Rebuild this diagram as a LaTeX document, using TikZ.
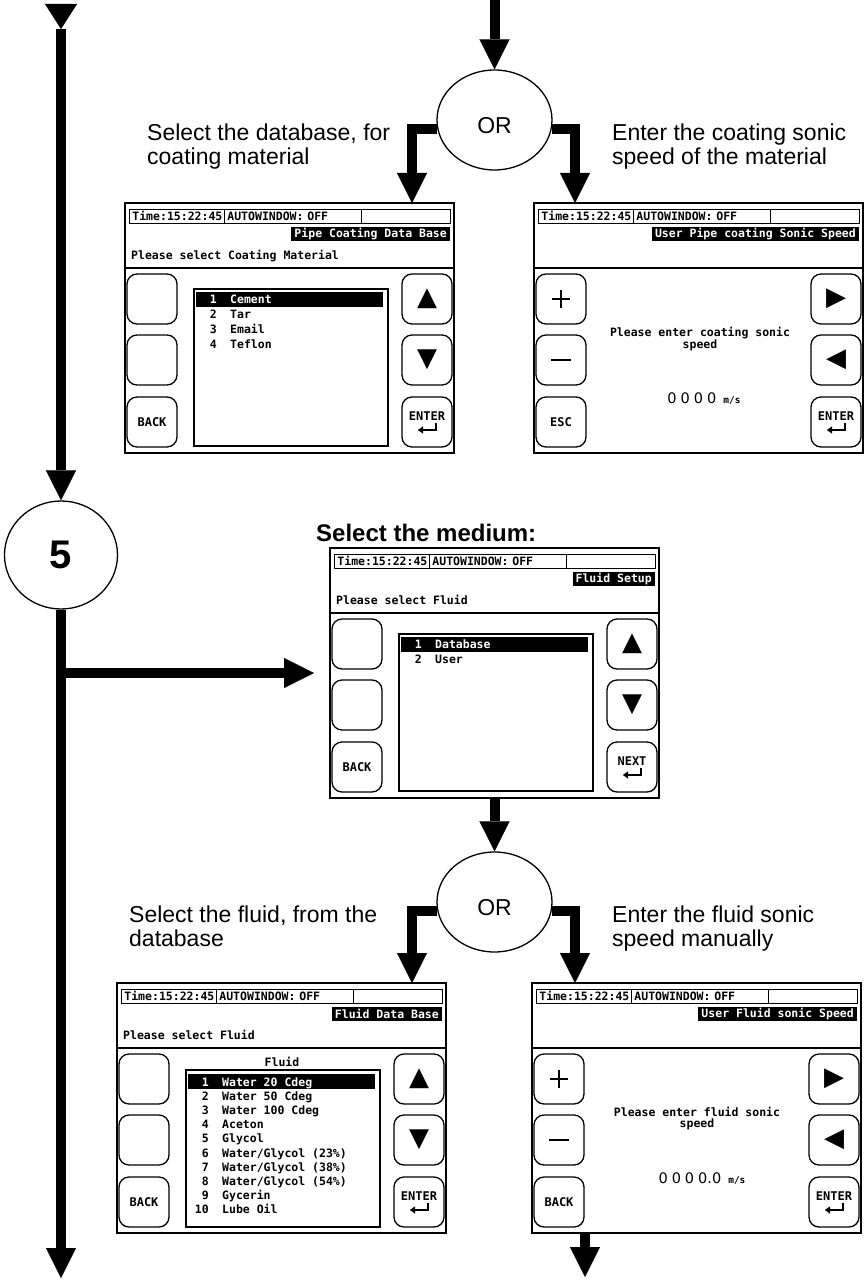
\documentclass[tikz,border=0pt]{standalone}
\usepackage{fontspec}
\setmainfont{Liberation Sans}
\newfontfamily\lcdfont{DejaVu Sans Mono Bold}
\newfontfamily\symfont{DejaVu Sans}
\usetikzlibrary{shapes.geometric}
\usetikzlibrary{positioning}
\usetikzlibrary{arrows.meta}
\tikzset{
    flow/.style = {line width=10pt, -{Triangle[width=30pt,length=30pt,line width=0.1pt]}},
    retarrow/.style = {line width=2pt, -{Triangle[width=7pt,length=5pt,line width=0.1pt]}},
    orcircle/.style = {ellipse, draw, line width=1.3pt, minimum width=115pt, minimum height=100pt, inner sep=0pt, font=\fontsize{23}{23}\selectfont},
    stepcircle/.style = {ellipse, draw, line width=1.3pt, minimum width=113pt, minimum height=108pt, inner sep=0pt, font=\bfseries\fontsize{40}{40}\selectfont},
    caption/.style = {anchor=north west, align=left, inner sep=0pt, font=\fontsize{23}{24}\selectfont},
    screen/.style = {rectangle, draw, line width=2pt, minimum width=329pt, minimum height=250pt, inner sep=0pt, fill=white},
    lcd/.style = {inner sep=0pt, font=\lcdfont\fontsize{11.5}{11}\selectfont},
    topbox/.style = {lcd, draw, line width=0.8pt, anchor=west, align=left, inner xsep=3pt, minimum height=14pt},
    header/.style = {lcd, fill=black, text=white, anchor=north east, inner xsep=3pt, minimum height=14pt},
    softkey/.style = {draw, line width=1.3pt, rounded corners=10pt, minimum size=50pt, inner sep=0pt},
    keytext/.style = {lcd, font=\lcdfont\fontsize{12}{11}\selectfont},
    keysym/.style = {inner sep=0pt, font=\symfont\fontsize{26}{26}\selectfont},
    listbox/.style = {draw, line width=1.5pt, anchor=north west, minimum width=194pt, minimum height=157pt, inner sep=0pt},
    rowmark/.style = {fill=black, anchor=north west, minimum width=187pt, minimum height=15pt, inner sep=0pt},
    rownum/.style = {lcd, anchor=base east},
    rowname/.style = {lcd, anchor=base west},
    value/.style = {anchor=base, inner sep=0pt, font=\symfont\fontsize{14.5}{14}\selectfont},
}

% parts shared by every display
\newcommand{\lcdframe}[3]{%
  \node[screen] (#1) at (#2+164.5,#3+125) {};
  \begin{scope}[shift={(#2,#3)}]
    \node[topbox, text width=89pt] (#1-time) at (4,13) {Time:15:22:45};
    \node[topbox, text width=131pt] (#1-auto) at (99,13) {AUTOWINDOW: OFF};
    \node[topbox, text width=83pt] (#1-free) at (236,13) {};
    \draw[line width=2pt] (0,65) -- (329,65);
    \foreach \k/\yk in {1/96,2/157,3/219}{
      \node[softkey] (#1-l\k) at (27,\yk) {};
      \node[softkey] (#1-r\k) at (302,\yk) {};
    }
  \end{scope}}
\newcommand{\enterkey}[2]{%
  \node[keytext] (#1-txt) at ([yshift=6pt]#1.center) {#2};
  \draw[retarrow] ([shift={(9,1)}]#1.center) -- ([shift={(9,8)}]#1.center) -- ([shift={(-9,8)}]#1.center);}
\newcommand{\pluskey}[1]{%
  \draw[line width=2.4pt] ([xshift=-9pt]#1.center) -- ([xshift=9pt]#1.center) ([yshift=-9pt]#1.center) -- ([yshift=9pt]#1.center);}
\newcommand{\minuskey}[1]{%
  \draw[line width=2.4pt] ([xshift=-10pt]#1.center) -- ([xshift=10pt]#1.center);}

\begin{document}
\begin{tikzpicture}[x=1pt, y=-1pt]
  \useasboundingbox (0,0) rectangle (867,1281);

  % left column
  \coordinate (lTop) at (61,4);
  \coordinate (lBot) at (61,1278);
  \coordinate (brM) at (61,673);
  \node[stepcircle] (c5) at (61,555) {5};

  % coating branch
  \coordinate (topIn) at (494.5,0);
  \node[orcircle] (or1) at (494.5,120) {\raisebox{-6pt}[\height][\depth]{OR}};
  \coordinate (inA) at (412,203);
  \coordinate (inB) at (575,203);
  \node[caption] (capA) at (147,124) {Select the database, for\\coating material};
  \node[caption] (capB) at (612,124) {Enter the coating sonic\\speed of the material};

  \lcdframe{scrA}{125}{203}
  \begin{scope}[shift={(125,203)}]
    \node[header] (scrA-head) at (325,24) {Pipe Coating Data Base};
    \node[lcd, anchor=base west] (scrA-ask) at (6,56) {Please select Coating Material};
    \node[listbox] (scrA-list) at (68,85) {};
    \node[rowmark] (scrA-mark) at (71,89) {};
    \node[rownum, text=white] (scrA-n1) at (92,100.5) {1};
    \node[rowname, text=white] (scrA-t1) at (105,100.5) {Cement};
    \foreach \n/\t in {2/Tar,3/Email,4/Teflon}{
      \node[rownum] (scrA-n\n) at (92,85.5+15*\n) {\n};
      \node[rowname] (scrA-t\n) at (105,85.5+15*\n) {\t};
    }
  \end{scope}
  \node[keysym] (scrA-up) at (scrA-r1) {▲};
  \node[keysym] (scrA-dn) at (scrA-r2) {▼};
  \node[keytext] (scrA-back) at (scrA-l3) {BACK};
  \enterkey{scrA-r3}{ENTER}

  \lcdframe{scrB}{534}{203}
  \begin{scope}[shift={(534,203)}]
    \node[header] (scrB-head) at (325,24) {User Pipe coating Sonic Speed};
    \node[lcd, align=center] (scrB-ask) at (166,136) {Please enter coating sonic\\speed};
    \node[value] (scrB-val) at (170,200) {0\kern4pt0\kern4pt0\kern4pt0\hspace{7pt}{\lcdfont\fontsize{9.5}{9}\selectfont m/s}};
  \end{scope}
  \pluskey{scrB-l1}
  \minuskey{scrB-l2}
  \node[keytext] (scrB-esc) at (scrB-l3) {ESC};
  \node[keysym] (scrB-fw) at (scrB-r1) {▶};
  \node[keysym] (scrB-bw) at (scrB-r2) {◀};
  \enterkey{scrB-r3}{ENTER}

  % medium
  \node[anchor=base west, inner sep=0pt, font=\bfseries\fontsize{24}{24}\selectfont] (medium) at (316,541) {Select the medium:};
  \lcdframe{scrM}{330}{548}
  \begin{scope}[shift={(330,548)}]
    \node[header] (scrM-head) at (325,24) {Fluid Setup};
    \node[lcd, anchor=base west] (scrM-ask) at (6,56) {Please select Fluid};
    \node[listbox] (scrM-list) at (68,85) {};
    \node[rowmark] (scrM-mark) at (71,89) {};
    \node[rownum, text=white] (scrM-n1) at (92,100.5) {1};
    \node[rowname, text=white] (scrM-t1) at (105,100.5) {Database};
    \node[rownum] (scrM-n2) at (92,115.5) {2};
    \node[rowname] (scrM-t2) at (105,115.5) {User};
  \end{scope}
  \node[keysym] (scrM-up) at (scrM-r1) {▲};
  \node[keysym] (scrM-dn) at (scrM-r2) {▼};
  \node[keytext] (scrM-back) at (scrM-l3) {BACK};
  \enterkey{scrM-r3}{NEXT}

  % fluid branch
  \node[orcircle] (or2) at (494.5,902) {\raisebox{-6pt}[\height][\depth]{OR}};
  \coordinate (inC) at (412,983);
  \coordinate (inD) at (575,983);
  \coordinate (outD) at (585,1277);
  \node[caption] (capC) at (129,906) {Select the fluid, from the\\database};
  \node[caption] (capD) at (612,906) {Enter the fluid sonic\\speed manually};

  \lcdframe{scrC}{117}{983}
  \begin{scope}[shift={(117,983)}]
    \node[header] (scrC-head) at (325,24) {Fluid Data Base};
    \node[lcd, anchor=base west] (scrC-ask) at (6,56) {Please select Fluid};
    \node[lcd, anchor=base] (scrC-title) at (165,83) {Fluid};
    \node[listbox] (scrC-list) at (68,86) {};
    \node[rowmark] (scrC-mark) at (71,91) {};
    \node[rownum, text=white] (scrC-n1) at (92,103) {1};
    \node[rowname, text=white] (scrC-t1) at (105,103) {Water 20 Cdeg};
    \foreach \n/\t in {2/{Water 50 Cdeg},3/{Water 100 Cdeg},4/{Aceton},5/{Glycol},
        6/{Water/Glycol (23\%)},7/{Water/Glycol (38\%)},8/{Water/Glycol (54\%)},9/{Gycerin},10/{Lube Oil}}{
      \node[rownum] (scrC-n\n) at (92,88.8+14.2*\n) {\n};
      \node[rowname] (scrC-t\n) at (105,88.8+14.2*\n) {\t};
    }
  \end{scope}
  \node[keysym] (scrC-up) at (scrC-r1) {▲};
  \node[keysym] (scrC-dn) at (scrC-r2) {▼};
  \node[keytext] (scrC-back) at (scrC-l3) {BACK};
  \enterkey{scrC-r3}{ENTER}

  \lcdframe{scrD}{532}{983}
  \begin{scope}[shift={(532,983)}]
    \node[header] (scrD-head) at (325,24) {User Fluid sonic Speed};
    \node[lcd, align=center] (scrD-ask) at (165,136) {Please enter fluid sonic\\speed};
    \node[value] (scrD-val) at (170,200) {0\kern4pt0\kern4pt0\kern4pt0.0\hspace{7pt}{\lcdfont\fontsize{9.5}{9}\selectfont m/s}};
  \end{scope}
  \pluskey{scrD-l1}
  \minuskey{scrD-l2}
  \node[keytext] (scrD-back) at (scrD-l3) {BACK};
  \node[keysym] (scrD-fw) at (scrD-r1) {▶};
  \node[keysym] (scrD-bw) at (scrD-r2) {◀};
  \enterkey{scrD-r3}{ENTER}

  % connectors
  \draw[flow] (topIn) -- (or1);
  \draw[flow] (or1.189) -| (inA);
  \draw[flow] (or1.351) -| (inB);
  \draw[flow, {Triangle[reversed,width=32pt,length=25pt,line width=0.1pt]}-{Triangle[width=30pt,length=30pt,line width=0.1pt]}] (lTop) -- (c5);
  \draw[flow] (c5) -- (lBot);
  \draw[flow, shorten >=15pt] (brM) -- (scrM.west);
  \draw[flow] (scrM) -- (or2);
  \draw[flow] (or2.189) -| (inC);
  \draw[flow] (or2.351) -| (inD);
  \draw[flow] (scrD.south -| outD) -- (outD);
\end{tikzpicture}
\end{document}
